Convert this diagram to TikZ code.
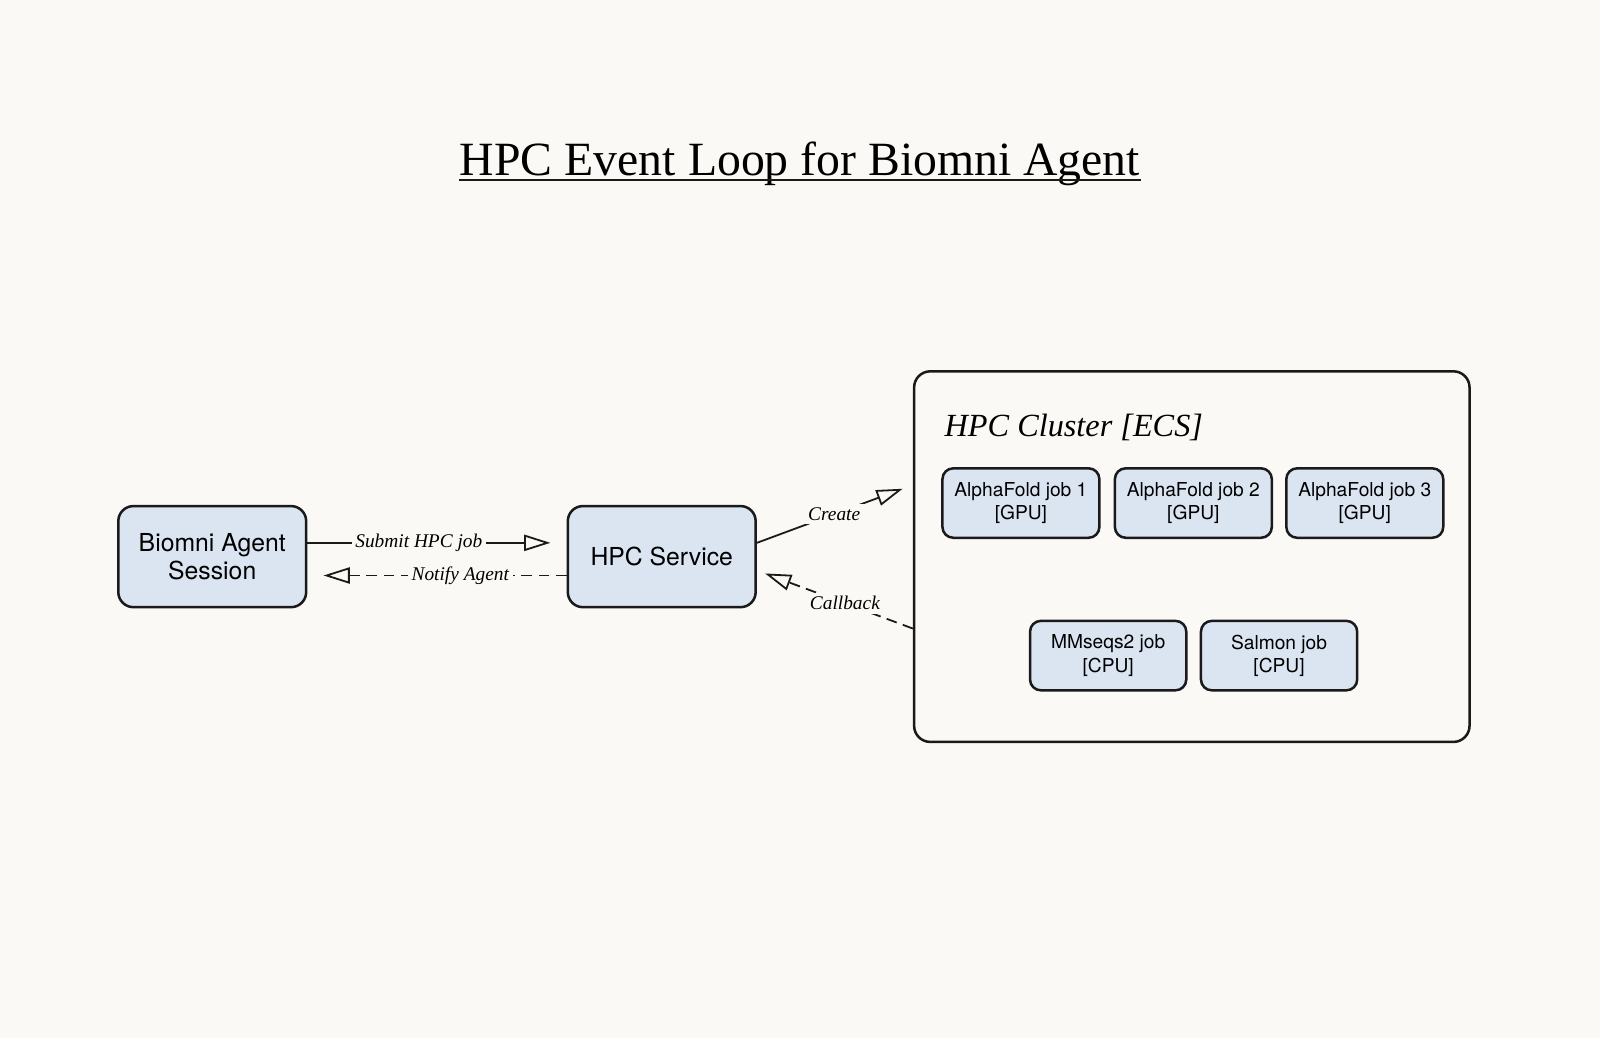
\documentclass[tikz,border=0pt]{standalone}
\usepackage{fontspec}
\setmainfont{Liberation Serif}
\setsansfont{TeX Gyre Heros}
\usetikzlibrary{arrows.meta}
\definecolor{paper}{HTML}{FAF9F5}
\definecolor{boxblue}{HTML}{DAE5F1}
\definecolor{ink}{HTML}{1A1A1A}

\begin{document}
\begin{tikzpicture}[x=0.01cm, y=-0.01cm,
  box/.style = {shape=rectangle, rounded corners=4.2pt, draw=ink, line width=0.7pt, fill=boxblue, align=center,
    font=\sffamily\fontsize{6.9}{8}\selectfont, minimum width=1.84cm, minimum height=0.99cm},
  job/.style = {box, rounded corners=3pt, font=\sffamily\fontsize{5.35}{6.5}\selectfont, minimum width=1.53cm, minimum height=0.68cm},
  flow/.style = {draw=ink, line width=0.5pt, -{Triangle[open, length=7.3pt, width=4.5pt]}},
  reply/.style = {flow, dash pattern=on 3pt off 1.8pt},
  tag/.style = {fill=paper, inner sep=1pt, font=\itshape\fontsize{5.4}{7}\selectfont}]
  \fill[paper] (0,0) rectangle (1568,1017.2);
  \useasboundingbox (0,0) rectangle (1568,1017.2);
  \node[inner sep=0pt, anchor=base, font=\fontsize{13.3}{16}\selectfont] (title) at (784,172) {HPC Event Loop for Biomni Agent};
  \draw[ink, line width=0.55pt] ([yshift=-1.2pt]title.base west) -- ([yshift=-1.2pt]title.base east);
  \node[box] (agent) at (208,545.5) {Biomni Agent\\Session};
  \node[box] (svc) at (648.5,545.5) {HPC Service};
  \node[box, fill=none, rounded corners=4.5pt, minimum width=5.44cm, minimum height=3.63cm] (cluster) at (1168,545.5) {};
  \node[inner sep=0pt, anchor=base west, font=\itshape\fontsize{9}{11}\selectfont] (ctitle) at (925,428) {HPC Cluster [ECS]};
  \node[job] (af1) at (1000.5,493) {AlphaFold job 1\\{[GPU]}};
  \node[job] (af2) at (1169.5,493) {AlphaFold job 2\\{[GPU]}};
  \node[job] (af3) at (1337.5,493) {AlphaFold job 3\\{[GPU]}};
  \node[job] (mm) at (1086,642.5) {MMseqs2 job\\{[CPU]}};
  \node[job] (salmon) at (1253.5,642.5) {Salmon job\\{[CPU]}};
  \draw[flow, shorten >=4.5pt] ([shift={(0,-13.5)}]agent.east) -- node[tag, pos=0.43] {Submit HPC job} ([shift={(0,-13.5)}]svc.west);
  \draw[reply, shorten >=4.5pt] ([shift={(0,18.5)}]svc.west) -- node[tag, pos=0.41] {Notify Agent} ([shift={(0,18.5)}]agent.east);
  \draw[flow] ([shift={(0,-13.5)}]svc.east) -- node[tag, pos=0.53] {Create} ([shift={(-10,-66.5)}]cluster.west);
  \draw[reply] ([shift={(0,70.5)}]cluster.west) -- node[tag, pos=0.46] {Callback} ([shift={(8,16.5)}]svc.east);
\end{tikzpicture}
\end{document}
